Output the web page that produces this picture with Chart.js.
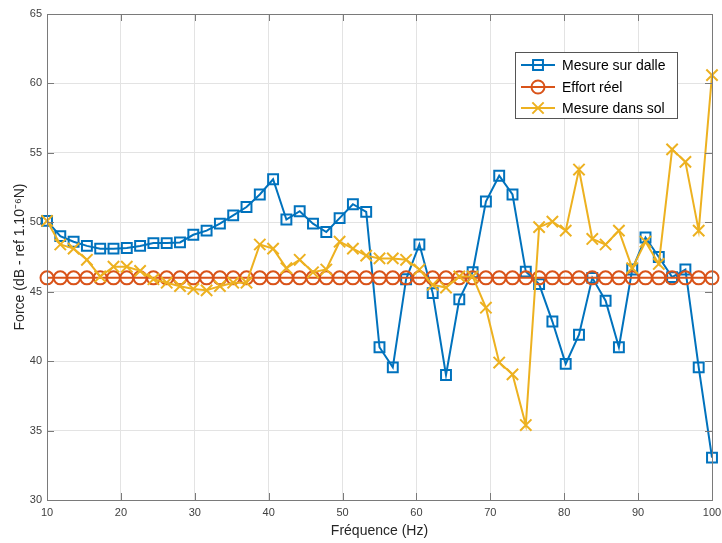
<!DOCTYPE html>
<html>
<head>
<meta charset="utf-8">
<script src="https://cdn.jsdelivr.net/npm/chart.js@4"></script>
<style>
  html, body { margin: 0; padding: 0; background: #fff; }
  #wrap { width: 722px; height: 543px; position: relative; }
</style>
</head>
<body>
<div id="wrap"><canvas id="myChart" width="722" height="543"></canvas></div>
<script>
// frequencies (Hz)
var freqs = [10, 11.8, 13.6, 15.4, 17.2, 19, 20.8, 22.6, 24.4, 26.2, 28, 29.8, 31.6, 33.4, 35.2, 37, 38.8,
    40.6, 42.4, 44.2, 46, 47.8, 49.6, 51.4, 53.2, 55, 56.8, 58.6, 60.4, 62.2, 64, 65.8, 67.6, 69.4,
    71.2, 73, 74.8, 76.6, 78.4, 80.2, 82, 83.8, 85.6, 87.4, 89.2, 91, 92.8, 94.6, 96.4, 98.2, 100];

var mesureDalle = [50.1, 49.0, 48.6, 48.3, 48.1, 48.1, 48.15, 48.3, 48.5, 48.5, 48.55, 49.1, 49.4, 49.9, 50.5, 51.1, 52.0,
    53.1, 50.2, 50.8, 49.9, 49.3, 50.3, 51.3, 50.75, 41.0, 39.55, 45.9, 48.4, 44.9, 39.0, 44.45, 46.4, 51.5,
    53.35, 52.0, 46.45, 45.55, 42.85, 39.8, 41.9, 46.0, 44.35, 41.0, 46.6, 48.9, 47.5, 46.05, 46.6, 39.55, 33.05];

var effortReel = [46, 46, 46, 46, 46, 46, 46, 46, 46, 46, 46, 46, 46, 46, 46, 46, 46,
    46, 46, 46, 46, 46, 46, 46, 46, 46, 46, 46, 46, 46, 46, 46, 46, 46,
    46, 46, 46, 46, 46, 46, 46, 46, 46, 46, 46, 46, 46, 46, 46, 46, 46];

var mesureSol = [50.1, 48.4, 48.1, 47.3, 46.1, 46.8, 46.8, 46.5, 45.9, 45.65, 45.4, 45.2, 45.1, 45.4, 45.65, 45.65, 48.4,
    48.1, 46.7, 47.3, 46.4, 46.6, 48.6, 48.1, 47.6, 47.4, 47.4, 47.3, 46.6, 45.5, 45.3, 46.1, 46.1, 43.85,
    39.9, 39.05, 35.4, 49.65, 50.05, 49.4, 53.8, 48.8, 48.4, 49.4, 46.7, 48.6, 47.0, 55.25, 54.35, 49.4, 60.6];

var xTicks = [10, 20, 30, 40, 50, 60, 70, 80, 90, 100];
var yTicks = [30, 35, 40, 45, 50, 55, 60, 65];

var names = ['Mesure sur dalle', 'Effort réel', 'Mesure dans sol'];
var colors = ['#0072BD', '#D95319', '#EDB120'];
var markers = ['rect', 'circle', 'crossRot'];
var radii = [7, 6.5, 8];

function pts(ys) {
    return ys.map(function (y, i) { return { x: freqs[i], y: y }; });
}

var FONT = 'Liberation Sans, Arial, Helvetica, sans-serif';
var AXIS_COL = '#7a7a7a';

var boxPlugin = {
    id: 'box',
    afterDatasetsDraw: function (chart) {
        var c = chart.ctx, a = chart.chartArea;
        var xs = chart.scales.x, ys = chart.scales.y;
        c.save();
        c.strokeStyle = AXIS_COL;
        c.lineWidth = 1;
        c.beginPath();
        xTicks.forEach(function (t) {
            var px = Math.round(xs.getPixelForValue(t)) + 0.5;
            c.moveTo(px, a.bottom); c.lineTo(px, a.bottom - 7);
            c.moveTo(px, a.top); c.lineTo(px, a.top + 7);
        });
        yTicks.forEach(function (t) {
            var py = Math.round(ys.getPixelForValue(t)) + 0.5;
            c.moveTo(a.left, py); c.lineTo(a.left + 7, py);
            c.moveTo(a.right, py); c.lineTo(a.right - 7, py);
        });
        c.stroke();
        c.strokeRect(Math.round(a.left) + 0.5, Math.round(a.top) + 0.5,
            Math.round(a.right - a.left), Math.round(a.bottom - a.top));
        c.restore();
    },
    afterDraw: function (chart) {
        var c = chart.ctx;
        var bx = 515.5, by = 52.5, bw = 162, bh = 66;
        c.save();
        c.fillStyle = '#fff';
        c.fillRect(bx, by, bw, bh);
        c.strokeStyle = '#555';
        c.lineWidth = 1;
        c.strokeRect(bx, by, bw, bh);
        var rows = [65, 87, 108];
        c.font = '14px ' + FONT;
        c.textBaseline = 'middle';
        names.forEach(function (n, i) {
            c.strokeStyle = colors[i];
            c.lineWidth = 2;
            c.beginPath();
            c.moveTo(521, rows[i]); c.lineTo(555, rows[i]);
            c.stroke();
            c.fillStyle = 'rgba(0,0,0,0)';
            Chart.helpers.drawPoint(c, {
                pointStyle: markers[i], radius: radii[i], borderWidth: 2, rotation: 0
            }, 538, rows[i]);
            c.fillStyle = '#000';
            c.fillText(n, 562, rows[i] + 1);
        });
        c.restore();
    }
};

var datasets = [mesureDalle, effortReel, mesureSol].map(function (ys, i) {
    return {
        label: names[i],
        data: pts(ys),
        borderColor: colors[i],
        backgroundColor: colors[i],
        borderWidth: 2,
        pointStyle: markers[i],
        pointRadius: radii[i],
        pointBorderWidth: 2,
        pointBackgroundColor: 'rgba(0,0,0,0)',
        pointBorderColor: colors[i],
        tension: 0,
        clip: false,
        order: 3 - i
    };
});

var ctx = document.getElementById('myChart').getContext('2d');
var myChart = new Chart(ctx, {
    type: 'line',
    data: { datasets: datasets },
    options: {
        responsive: false,
        animation: false,
        layout: { padding: { top: 14, right: 8, left: 0, bottom: 0 } },
        plugins: { legend: { display: false }, tooltip: { enabled: false } },
        scales: {
            x: {
                type: 'linear',
                min: 10, max: 100,
                afterFit: function (s) { s.height = 43; s.paddingLeft = 0; s.paddingRight = 0; },
                afterBuildTicks: function (s) { s.ticks = xTicks.map(function (v) { return { value: v }; }); },
                grid: { color: '#e3e3e3', drawTicks: false },
                border: { color: AXIS_COL },
                ticks: { color: '#404040', padding: 6, font: { family: FONT, size: 11 } },
                title: {
                    display: true, text: 'Fréquence (Hz)', color: '#262626',
                    font: { family: FONT, size: 14 }, padding: { top: 0, bottom: 3 }
                }
            },
            y: {
                min: 30, max: 65,
                afterFit: function (s) { s.width = 47; s.paddingTop = 0; s.paddingBottom = 0; },
                afterBuildTicks: function (s) { s.ticks = yTicks.map(function (v) { return { value: v }; }); },
                grid: { color: '#e3e3e3', drawTicks: false },
                border: { color: AXIS_COL },
                ticks: { color: '#404040', padding: 5, font: { family: FONT, size: 11 } },
                title: {
                    display: true, text: 'Force (dB - ref 1.10⁻⁶N)', color: '#262626',
                    font: { family: FONT, size: 14 }, padding: { top: 12, bottom: 0 }
                }
            }
        }
    },
    plugins: [boxPlugin]
});
</script>
</body>
</html>
